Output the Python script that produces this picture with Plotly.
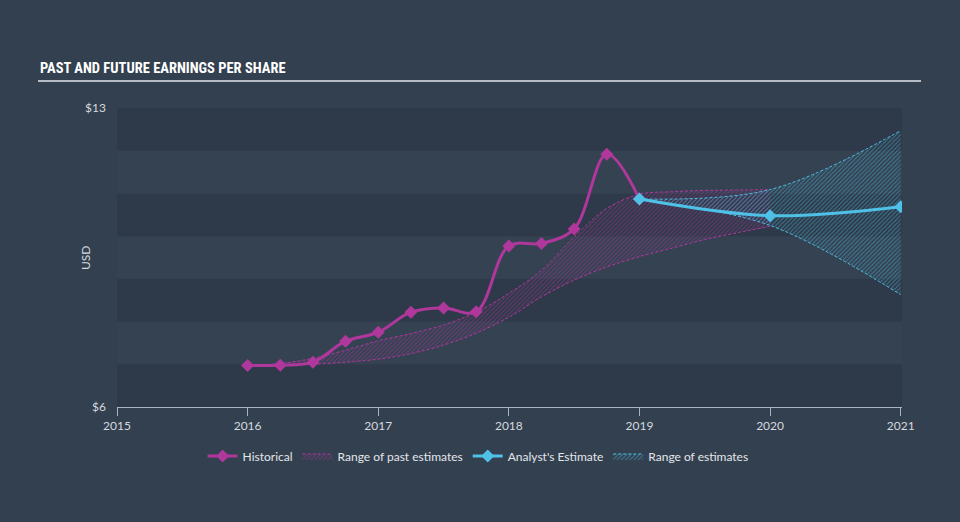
import plotly.graph_objects as go

# ---------------- data ----------------
hist_x = [2016.0, 2016.25, 2016.5, 2016.75, 2017.0, 2017.25, 2017.5, 2017.75,
          2018.0, 2018.25, 2018.5, 2018.75, 2019.0]
hist_y = [6.97, 6.98, 7.05, 7.54, 7.75, 8.22, 8.32, 8.23,
          9.77, 9.83, 10.17, 11.92, 10.87]

past_x = [2016.0, 2016.25, 2016.5, 2016.75, 2017.0, 2017.25, 2017.5, 2017.75, 2018.0,
          2018.25, 2018.5, 2018.75, 2019.0, 2019.25, 2019.5, 2019.75, 2020.0]
past_hi = [6.97, 7.02, 7.14, 7.33, 7.55, 7.72, 7.92, 8.22, 8.66,
           9.2, 9.98, 10.65, 10.98, 11.04, 11.07, 11.08, 11.09]
past_lo = [6.97, 6.98, 7.0, 7.05, 7.12, 7.25, 7.45, 7.73, 8.1,
           8.58, 8.97, 9.28, 9.52, 9.72, 9.92, 10.08, 10.23]

est_x = [2019.0, 2020.0, 2021.0]
est_y = [10.87, 10.48, 10.69]
est_hi = [10.87, 11.09, 12.47]
est_lo = [10.87, 10.25, 8.63]

year_ticks = [2015, 2016, 2017, 2018, 2019, 2020, 2021]
y_ticks = [6, 13]
y_ticktext = ["$6", "$13"]

MAG = "#b0379c"
CYAN = "#4fc1e6"
PAGE = "#334050"
DARK = "#2e3a49"
LIGHT = "#344252"
TXT = "#d5d9df"

fig = go.Figure()

# range of past estimates
fig.add_trace(go.Scatter(x=past_x, y=past_lo, mode="lines", line=dict(color=MAG, width=1, dash="3px,2px", shape="spline"),
                         showlegend=False, hoverinfo="skip"))
fig.add_trace(go.Scatter(x=past_x, y=past_hi, mode="lines", line=dict(color=MAG, width=1, dash="3px,2px", shape="spline"),
                         fill="tonexty", fillcolor="rgba(176,55,156,0.10)",
                         fillpattern=dict(shape="/", fgcolor=MAG, bgcolor="rgba(0,0,0,0)", size=3, solidity=0.3),
                         name="Range of past estimates", legendrank=2))
# range of estimates
fig.add_trace(go.Scatter(x=est_x, y=est_lo, mode="lines", line=dict(color=CYAN, width=1, dash="3px,2px", shape="spline"),
                         showlegend=False, hoverinfo="skip"))
fig.add_trace(go.Scatter(x=est_x, y=est_hi, mode="lines", line=dict(color=CYAN, width=1, dash="3px,2px", shape="spline"),
                         fill="tonexty", fillcolor="rgba(79,193,230,0.10)",
                         fillpattern=dict(shape="/", fgcolor=CYAN, bgcolor="rgba(0,0,0,0)", size=3, solidity=0.3),
                         name="Range of estimates", legendrank=4))
# historical
fig.add_trace(go.Scatter(x=hist_x, y=hist_y, mode="lines+markers", name="Historical", legendrank=1,
                         line=dict(color=MAG, width=3, shape="spline", smoothing=1.0),
                         marker=dict(symbol="diamond", size=10, color=MAG)))
# analyst
fig.add_trace(go.Scatter(x=est_x, y=est_y, mode="lines+markers", name="Analyst's Estimate", legendrank=3,
                         line=dict(color=CYAN, width=3, shape="spline", smoothing=1.0),
                         marker=dict(symbol="diamond", size=10, color=CYAN)))

# stripes
shapes = []
for lo in range(6, 13):
    shapes.append(dict(type="rect", xref="paper", yref="y", x0=0, x1=1, y0=lo, y1=lo + 1,
                       fillcolor=DARK if (lo % 2 == 0) else LIGHT, line=dict(width=0), layer="below"))
# title rule
shapes.append(dict(type="line", xref="paper", yref="paper", x0=(38 - 117) / 785, x1=(921 - 117) / 785,
                   y0=(407 - 81) / 299, y1=(407 - 81) / 299, line=dict(color="#b7bdc6", width=2)))

annotations = [
    dict(text="PAST AND FUTURE EARNINGS PER SHARE", xref="paper", yref="paper",
         x=(38 - 117) / 785, y=(407 - 68) / 299, xanchor="left", yanchor="middle", showarrow=False,
         font=dict(family="Roboto Condensed, DejaVu Sans Condensed, Liberation Sans Narrow, Arial Narrow, sans-serif",
                   size=14.5, color="#ffffff", weight="bold")),
    dict(text="USD", xref="paper", yref="paper", x=(85 - 117) / 785, y=0.498, textangle=-90,
         xanchor="center", yanchor="middle", showarrow=False, font=dict(family="Lato, sans-serif", size=12, color=TXT)),
]

fig.update_layout(
    width=960, height=522,
    margin=dict(l=117, r=58, t=108, b=115),
    paper_bgcolor=PAGE, plot_bgcolor=LIGHT,
    font=dict(family="Lato, sans-serif", size=12, color=TXT),
    shapes=shapes, annotations=annotations,
    showlegend=True,
    legend=dict(orientation="h", x=0.46, xanchor="center", y=(407 - 456) / 299, yanchor="middle",
                bgcolor="rgba(0,0,0,0)", font=dict(size=12, color="#e3e6ea"), itemwidth=30,
                traceorder="normal"),
    xaxis=dict(range=[2015, 2021.01], tickvals=year_ticks, ticktext=[str(v) for v in year_ticks],
               showgrid=False, zeroline=False, showline=True, linecolor="#aab3be", linewidth=1,
               ticks="outside", ticklen=8, tickcolor="#aab3be", tickfont=dict(size=12, color=TXT)),
    yaxis=dict(range=[6, 13], tickvals=y_ticks, ticktext=y_ticktext, showgrid=False, zeroline=False,
               showline=False, ticks="", ticklabelstandoff=10, tickfont=dict(size=12, color=TXT)),
    hovermode=False,
)

fig.write_html("out.html")
